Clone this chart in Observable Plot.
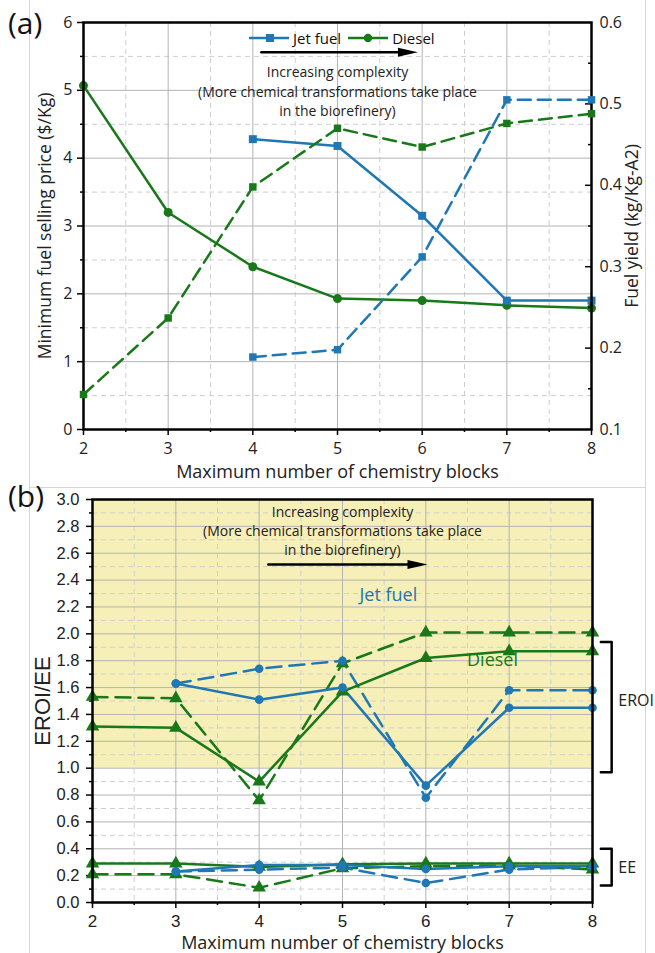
<!DOCTYPE html>
<html><head><meta charset="utf-8">
<script src="https://cdn.jsdelivr.net/npm/d3@7"></script>
<script src="https://cdn.jsdelivr.net/npm/@observablehq/plot@0.6"></script>
<style>
body{margin:0;background:#fff;}
#wrap{position:relative;width:655px;height:953px;overflow:hidden;font-family:"Open Sans",sans-serif;background:#fff;}
.layer{position:absolute;left:0;}
.box{position:absolute;border:1px solid #d6d6d6;box-sizing:border-box;}
.plabel{position:absolute;font-family:"Open Sans";font-size:30px;line-height:1;color:#111;}
#legA{position:absolute;left:248px;top:28px;display:flex;align-items:center;font-family:"Open Sans";font-size:15px;color:#111;}
#legA span{margin:0 6px 0 3px;}
</style></head>
<body><div id="wrap">
<div class="box" style="left:29px;top:-2px;width:617px;height:490px;"></div>
<div class="box" style="left:29px;top:487px;width:617px;height:480px;"></div>
</div>
<script>
// ---------- data ----------
const blocks = [2, 3, 4, 5, 6, 7, 8];
// panel (a): minimum fuel selling price ($/Kg) — solid lines, left axis
const mfspJet    = [NaN, NaN, 4.28, 4.18, 3.15, 1.90, 1.90];
const mfspDiesel = [5.07, 3.20, 2.40, 1.93, 1.90, 1.83, 1.79];
// panel (a): fuel yield (kg/Kg-A2) — dashed lines, right axis
const yieldJet    = [NaN, NaN, 0.189, 0.198, 0.312, 0.505, 0.505];
const yieldDiesel = [0.143, 0.237, 0.398, 0.470, 0.447, 0.476, 0.488];
// panel (b): EROI
const eroiJetSolid    = [NaN, 1.63, 1.51, 1.60, 0.87, 1.45, 1.45];
const eroiJetDash     = [NaN, 1.63, 1.74, 1.80, 0.78, 1.58, 1.58];
const eroiDieselSolid = [1.31, 1.30, 0.90, 1.57, 1.82, 1.87, 1.87];
const eroiDieselDash  = [1.53, 1.52, 0.76, 1.78, 2.01, 2.01, 2.01];
// panel (b): EE
const eeJetSolid    = [NaN, 0.23, 0.28, 0.28, 0.25, 0.27, 0.27];
const eeJetDash     = [NaN, 0.23, 0.245, 0.26, 0.145, 0.245, 0.265];
const eeDieselSolid = [0.29, 0.29, 0.265, 0.285, 0.29, 0.29, 0.29];
const eeDieselDash  = [0.21, 0.21, 0.11, 0.255, 0.27, 0.275, 0.245];
const eroiBand = [1.0, 3.0];

// ticks
const xTicks = [2, 3, 4, 5, 6, 7, 8];
const xMinor = [2.5, 3.5, 4.5, 5.5, 6.5, 7.5];
const mfspTicks = [0, 1, 2, 3, 4, 5, 6];
const mfspMinor = [0.5, 1.5, 2.5, 3.5, 4.5, 5.5];
const yieldTicks = [0.1, 0.2, 0.3, 0.4, 0.5, 0.6];
const yieldMinor = [0.15, 0.25, 0.35, 0.45, 0.55];
const eroiTicks = [0, 0.2, 0.4, 0.6, 0.8, 1.0, 1.2, 1.4, 1.6, 1.8, 2.0, 2.2, 2.4, 2.6, 2.8, 3.0];
const eroiMinor = [0.1, 0.3, 0.5, 0.7, 0.9, 1.1, 1.3, 1.5, 1.7, 1.9, 2.1, 2.3, 2.5, 2.7, 2.9];

// annotations (data coordinates)
const noteA = {x: 5.0, lines: [5.27, 4.97, 4.69], arrowY: 5.56, x1: 4.1, x2: 5.95};
const noteB = {x: 5.0, lines: [2.90, 2.76, 2.62], arrowY: 2.517, x1: 4.11, x2: 6.02};
const noteText = ["Increasing complexity", "(More chemical transformations take place", "in the biorefinery)"];
const brackets = [
  {name: "EROI", top: 1.94, bottom: 0.97, mid: 1.50},
  {name: "EE", top: 0.40, bottom: 0.127, mid: 0.26}
];

const BLUE = "#1f77b4", GREEN = "#197819";
const rows = (arr) => blocks.map((x, i) => ({x, y: arr[i]})).filter(d => !isNaN(d.y));
const W = 655;
const wrap = document.getElementById("wrap");

const major = "#b4b4b4", minor = "#cfcfcf";
const headShape = {draw(ctx, l) { ctx.moveTo(0, -l); ctx.lineTo(-4.5, 0); ctx.lineTo(4.5, 0); ctx.closePath(); }};
const title = (s, o) => Plot.text([s], {text: d => d, textAnchor: "middle", lineAnchor: "middle", fill: "#222", ...o});

function noteMarks(n) {
  return [
    Plot.text(noteText, {x: () => n.x, y: (d, i) => n.lines[i], text: d => d, fontSize: 14, fontFamily: "Open Sans", fill: "#222"}),
    Plot.line([{x: n.x1, y: n.arrowY}, {x: n.x2 - 0.15, y: n.arrowY}], {x: "x", y: "y", stroke: "black", strokeWidth: 2.5}),
    Plot.vector([{x: n.x2, y: n.arrowY}], {x: "x", y: "y", length: 20, rotate: 90, anchor: "end", shape: headShape, fill: "black", stroke: "none"})
  ];
}

// ---------- panel (a), left axis ----------
const mA = {width: W, height: 487, marginLeft: 83, marginRight: 64, marginTop: 22, marginBottom: 58};
const a1 = Plot.plot({
  ...mA,
  style: {fontFamily: "Open Sans", fontSize: "16px", background: "transparent", overflow: "visible"},
  x: {domain: [2, 8], label: null},
  y: {domain: [0, 6], label: null},
  marks: [
    Plot.ruleX(xMinor, {stroke: minor, strokeDasharray: "5,4"}),
    Plot.ruleY(mfspMinor, {stroke: minor, strokeDasharray: "5,4"}),
    Plot.ruleX(xTicks.slice(1, -1), {stroke: major}),
    Plot.ruleY(mfspTicks.slice(1, -1), {stroke: major}),
    Plot.axisX({ticks: xTicks, tickSize: 6, tickPadding: 7, tickFormat: d => d, label: null, fontSize: 16, strokeWidth: 1.5, fill: "#222"}),
    Plot.axisX({ticks: xMinor, tickSize: 3, tickFormat: () => "", label: null, strokeWidth: 1.5}),
    Plot.axisY({ticks: mfspTicks, tickSize: 6, tickPadding: 5, tickFormat: d => d, label: null, fontSize: 16, strokeWidth: 1.5, fill: "#222"}),
    Plot.axisY({ticks: mfspMinor, tickSize: 3, tickFormat: () => "", label: null, strokeWidth: 1.5}),
    title("Maximum number of chemistry blocks", {frameAnchor: "bottom", dy: 43, fontSize: 18}),
    title("Minimum fuel selling price ($/Kg)", {frameAnchor: "left", dx: -38, rotate: -90, fontSize: 17.5}),
    ...noteMarks(noteA),
    Plot.line(rows(mfspDiesel), {x: "x", y: "y", stroke: GREEN, strokeWidth: 2.5}),
    Plot.line(rows(mfspJet), {x: "x", y: "y", stroke: BLUE, strokeWidth: 2.5}),
    Plot.dot(rows(mfspDiesel), {x: "x", y: "y", r: 4.5, fill: GREEN}),
    Plot.dot(rows(mfspJet), {x: "x", y: "y", r: 4.5, symbol: "square", fill: BLUE}),
    Plot.frame({stroke: "black", strokeWidth: 2.5})
  ]
});
a1.classList.add("layer"); a1.style.top = "0px";
wrap.appendChild(a1);

// ---------- panel (a), right axis overlay ----------
const a2 = Plot.plot({
  ...mA,
  style: {fontFamily: "Open Sans", fontSize: "16px", background: "transparent", overflow: "visible"},
  x: {domain: [2, 8], axis: null, label: null},
  y: {domain: [0.1, 0.6], label: null},
  marks: [
    Plot.axisY({anchor: "right", ticks: yieldTicks, tickSize: 0, tickPadding: 8, tickFormat: d => d.toFixed(1), label: null, fontSize: 16, fill: "#222"}),
    Plot.tickY(yieldTicks.slice(1, -1), {y: d => d, insetLeft: 502, stroke: "black", strokeWidth: 1.5}),
    Plot.tickY(yieldMinor, {y: d => d, insetLeft: 505, stroke: "black", strokeWidth: 1.5}),
    title("Fuel yield (kg/Kg-A2)", {frameAnchor: "right", dx: 41, rotate: -90, fontSize: 17.5}),
    Plot.line(rows(yieldDiesel), {x: "x", y: "y", stroke: GREEN, strokeWidth: 2.5, strokeDasharray: "13,7"}),
    Plot.line(rows(yieldJet), {x: "x", y: "y", stroke: BLUE, strokeWidth: 2.5, strokeDasharray: "13,7"}),
    Plot.dot(rows(yieldDiesel), {x: "x", y: "y", r: 4.2, symbol: "square", fill: GREEN}),
    Plot.dot(rows(yieldJet), {x: "x", y: "y", r: 4.2, symbol: "square", fill: BLUE})
  ]
});
a2.classList.add("layer"); a2.style.top = "0px";
wrap.appendChild(a2);

// ---------- panel (b) ----------
const b = Plot.plot({
  width: W, height: 466, marginLeft: 92, marginRight: 63, marginTop: 12, marginBottom: 51,
  style: {fontFamily: "Liberation Sans", fontSize: "16px", background: "transparent", overflow: "visible"},
  x: {domain: [2, 8], label: null},
  y: {domain: [0, 3], label: null},
  marks: [
    Plot.rect([eroiBand], {y1: d => d[0], y2: d => d[1], fill: "#f6efb8"}),
    Plot.ruleX(xMinor, {stroke: minor, strokeDasharray: "5,4"}),
    Plot.ruleY(eroiMinor, {stroke: minor, strokeDasharray: "5,4"}),
    Plot.ruleX(xTicks.slice(1, -1), {stroke: major}),
    Plot.ruleY(eroiTicks.slice(1, -1), {stroke: major}),
    Plot.axisX({ticks: xTicks, tickSize: 6, tickPadding: 6, tickFormat: d => d, label: null, fontSize: 17, strokeWidth: 1.5, fill: "#222"}),
    Plot.axisX({ticks: xMinor, tickSize: 3, tickFormat: () => "", label: null, strokeWidth: 1.5}),
    Plot.axisY({ticks: eroiTicks, tickSize: 6, tickPadding: 7, tickFormat: d => d.toFixed(1), label: null, fontSize: 16.5, strokeWidth: 1.5, fill: "#222"}),
    Plot.axisY({ticks: eroiMinor, tickSize: 3, tickFormat: () => "", label: null, strokeWidth: 1.5}),
    title("Maximum number of chemistry blocks", {frameAnchor: "bottom", dy: 41, fontSize: 18, fontFamily: "Open Sans"}),
    title("EROI/EE", {frameAnchor: "left", dx: -50, rotate: -90, fontSize: 22}),
    ...noteMarks(noteB),
    Plot.text(["Jet fuel"], {x: () => 5.55, y: () => 2.29, text: d => d, fill: BLUE, fontSize: 18, fontFamily: "Open Sans"}),
    Plot.text(["Diesel"], {x: () => 6.8, y: () => 1.80, text: d => d, fill: GREEN, fontSize: 18, fontFamily: "Open Sans"}),
    // brackets
    ...brackets.flatMap(br => [
      Plot.line([{x: 8.10, y: br.top}, {x: 8.23, y: br.top}, {x: 8.23, y: br.bottom}, {x: 8.10, y: br.bottom}], {x: "x", y: "y", stroke: "black", strokeWidth: 2.5}),
      Plot.text([br.name], {x: () => 8.31, y: () => br.mid, text: d => d, textAnchor: "start", fontSize: 16, fontFamily: "Open Sans", fill: "#222"})
    ]),
    // dashed series
    Plot.line(rows(eroiDieselDash), {x: "x", y: "y", stroke: GREEN, strokeWidth: 2.5, strokeDasharray: "15,8"}),
    Plot.line(rows(eeDieselDash), {x: "x", y: "y", stroke: GREEN, strokeWidth: 2.5, strokeDasharray: "15,8"}),
    Plot.line(rows(eroiJetDash), {x: "x", y: "y", stroke: BLUE, strokeWidth: 2.5, strokeDasharray: "15,8"}),
    Plot.line(rows(eeJetDash), {x: "x", y: "y", stroke: BLUE, strokeWidth: 2.5, strokeDasharray: "15,8"}),
    // solid series
    Plot.line(rows(eroiDieselSolid), {x: "x", y: "y", stroke: GREEN, strokeWidth: 2.5}),
    Plot.line(rows(eeDieselSolid), {x: "x", y: "y", stroke: GREEN, strokeWidth: 2.5}),
    Plot.line(rows(eroiJetSolid), {x: "x", y: "y", stroke: BLUE, strokeWidth: 2.5}),
    Plot.line(rows(eeJetSolid), {x: "x", y: "y", stroke: BLUE, strokeWidth: 2.5}),
    // markers
    ...[eroiDieselDash, eeDieselDash, eroiDieselSolid, eeDieselSolid].map(s =>
      Plot.dot(rows(s), {x: "x", y: "y", r: 5, symbol: "triangle", fill: GREEN})),
    ...[eroiJetDash, eeJetDash, eroiJetSolid, eeJetSolid].map(s =>
      Plot.dot(rows(s), {x: "x", y: "y", r: 4.3, fill: BLUE})),
    Plot.frame({stroke: "black", strokeWidth: 2.5})
  ]
});
b.classList.add("layer"); b.style.top = "487px";
wrap.appendChild(b);

// ---------- panel labels & legend ----------
const la = document.createElement("div"); la.className = "plabel"; la.style.left = "8px"; la.style.top = "8px"; la.textContent = "(a)"; wrap.appendChild(la);
const lb = document.createElement("div"); lb.className = "plabel"; lb.style.left = "8px"; lb.style.top = "481px"; lb.textContent = "(b)"; wrap.appendChild(lb);

const leg = document.createElement("div"); leg.id = "legA";
leg.innerHTML =
  `<svg width="42" height="12"><line x1="1" y1="6" x2="41" y2="6" stroke="${BLUE}" stroke-width="2.5"/><rect x="18" y="2" width="8" height="8" fill="${BLUE}"/></svg><span>Jet fuel</span>` +
  `<svg width="42" height="12"><line x1="1" y1="6" x2="41" y2="6" stroke="${GREEN}" stroke-width="2.5"/><circle cx="21" cy="6" r="4.2" fill="${GREEN}"/></svg><span>Diesel</span>`;
wrap.appendChild(leg);
</script>
</body></html>
